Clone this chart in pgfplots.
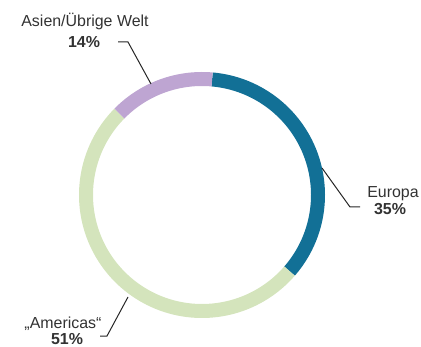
\documentclass[border=0pt]{standalone}
\usepackage{pgfplots}
\pgfplotsset{compat=1.18}
\usepackage{fontspec}
\setmainfont{Liberation Sans}
\definecolor{cEur}{RGB}{18,112,150}
\definecolor{cAme}{RGB}{212,228,188}
\definecolor{cAsi}{RGB}{190,165,210}
\definecolor{txt}{RGB}{50,50,50}
\begin{document}
\begin{tikzpicture}
% shares in percent
\def\pEur{35}
\def\pAme{51}
\def\pAsi{14}
\pgfmathsetmacro\aA{85}
\pgfmathsetmacro\aB{\aA-3.6*\pEur}
\pgfmathsetmacro\aC{\aB-3.6*\pAme}
\pgfmathsetmacro\aD{\aC-3.6*\pAsi}
\begin{axis}[scale only axis, width=421bp, height=347bp,
  xmin=0, xmax=421, ymin=0, ymax=347, hide axis, clip=false]
\addplot[draw=cEur, line width=14bp, domain=\aB:\aA, samples=90, variable=\t] ({202+116*cos(\t)},{152+116*sin(\t)});
\addplot[draw=cAme, line width=14bp, domain=\aC:\aB, samples=120, variable=\t] ({202+116*cos(\t)},{152+116*sin(\t)});
\addplot[draw=cAsi, line width=14bp, domain=\aD:\aC, samples=50, variable=\t] ({202+116*cos(\t)},{152+116*sin(\t)});
% leader lines
\addplot[black!85, line width=1bp, mark=none] coordinates {(118,305) (128,305) (151,263)};
\addplot[black!85, line width=1bp, mark=none] coordinates {(322,179) (350,140) (360,140)};
\addplot[black!85, line width=1bp, mark=none] coordinates {(128,50) (107,11) (100,11)};
% labels
\tikzset{lbl/.style={anchor=base, inner sep=0pt, text=txt, font=\fontsize{16}{18}\selectfont}}
\node[lbl] at (axis cs:85,320) {Asien/Übrige Welt};
\node[lbl, font=\fontsize{16}{18}\selectfont\bfseries] at (axis cs:84,299) {14\%};
\node[lbl] at (axis cs:393,149) {Europa};
\node[lbl, font=\fontsize{16}{18}\selectfont\bfseries] at (axis cs:390,132) {35\%};
\node[lbl] at (axis cs:63,19) {„Americas“};
\node[lbl, font=\fontsize{16}{18}\selectfont\bfseries] at (axis cs:67,3) {51\%};
\coordinate (ll) at (rel axis cs:0,0);
\coordinate (ur) at (rel axis cs:1,1);
\end{axis}
\pgfresetboundingbox
\useasboundingbox (ll) rectangle (ur);
\end{tikzpicture}
\end{document}
